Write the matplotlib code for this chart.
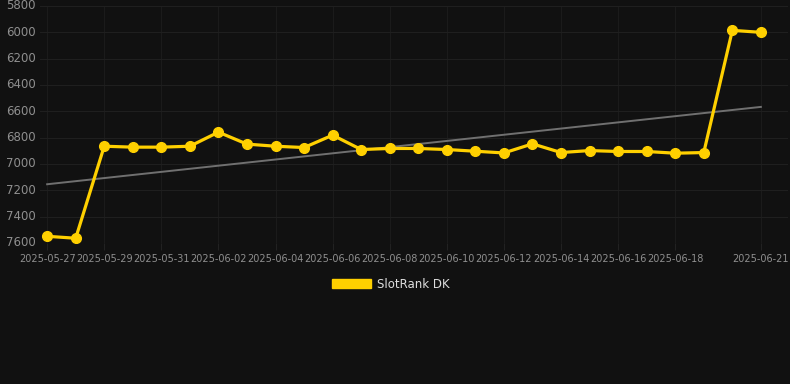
import numpy as np
import pandas as pd
import matplotlib
matplotlib.use("Agg")
import matplotlib.pyplot as plt
import matplotlib.dates as mdates
from matplotlib.patches import Patch

# data
dates = pd.date_range("2025-05-27", "2025-06-21", freq="D")
ranks = [7549, 7564, 6865, 6872, 6872, 6865, 6758, 6849, 6865, 6875,
         6781, 6890, 6882, 6882, 6890, 6903, 6916, 6847, 6913, 6898,
         6905, 6905, 6918, 6913, 5985, 6000]
tick_days = ["2025-05-27", "2025-05-29", "2025-05-31", "2025-06-02", "2025-06-04",
             "2025-06-06", "2025-06-08", "2025-06-10", "2025-06-12", "2025-06-14",
             "2025-06-16", "2025-06-18", "2025-06-21"]
series_name = "SlotRank DK"

bg = "#111111"
gold = "#FFD000"

fig = plt.figure(figsize=(7.9, 3.84), dpi=100, facecolor=bg)
ax = fig.add_axes([40 / 790, 1 - 243 / 384, 748 / 790, 237 / 384])
ax.set_facecolor(bg)

x = mdates.date2num(dates)
y = np.array(ranks)

# linear trend
k, b = np.polyfit(x, y, 1)
ax.plot(x, k * x + b, color="#707070", lw=1.4, zorder=2)

ax.plot(x, y, color=gold, lw=2.3, marker="o", ms=7, zorder=3)

ax.set_xlim(x[0] - 0.25, x[-1] + 0.95)
ax.set_ylim(7600, 5800)
ax.set_yticks(np.arange(5800, 7601, 200))
ax.set_xticks(mdates.date2num(pd.to_datetime(tick_days)))
ax.set_xticklabels(tick_days)

ax.grid(True, axis="y", color="#1f1f1f", lw=0.8)
ax.grid(True, axis="x", color="#1b1b1b", lw=0.8)
for s in ax.spines.values():
    s.set_visible(False)
ax.tick_params(axis="y", colors="#8f8f8f", labelsize=8.5, length=0, pad=3)
ax.tick_params(axis="x", colors="#222222", labelcolor="#8f8f8f", labelsize=7, length=5, pad=3)
for lbl in ax.get_yticklabels():
    lbl.set_verticalalignment("center")

fig.legend(handles=[Patch(facecolor=gold, edgecolor=gold)], labels=[series_name],
           loc="center", bbox_to_anchor=(391 / 790, 1 - 284 / 384), frameon=False,
           fontsize=8.5, labelcolor="#dddddd", handlelength=3.3, handleheight=0.9,
           handletextpad=0.5)

fig.savefig("out.png", dpi=100, facecolor=bg)
